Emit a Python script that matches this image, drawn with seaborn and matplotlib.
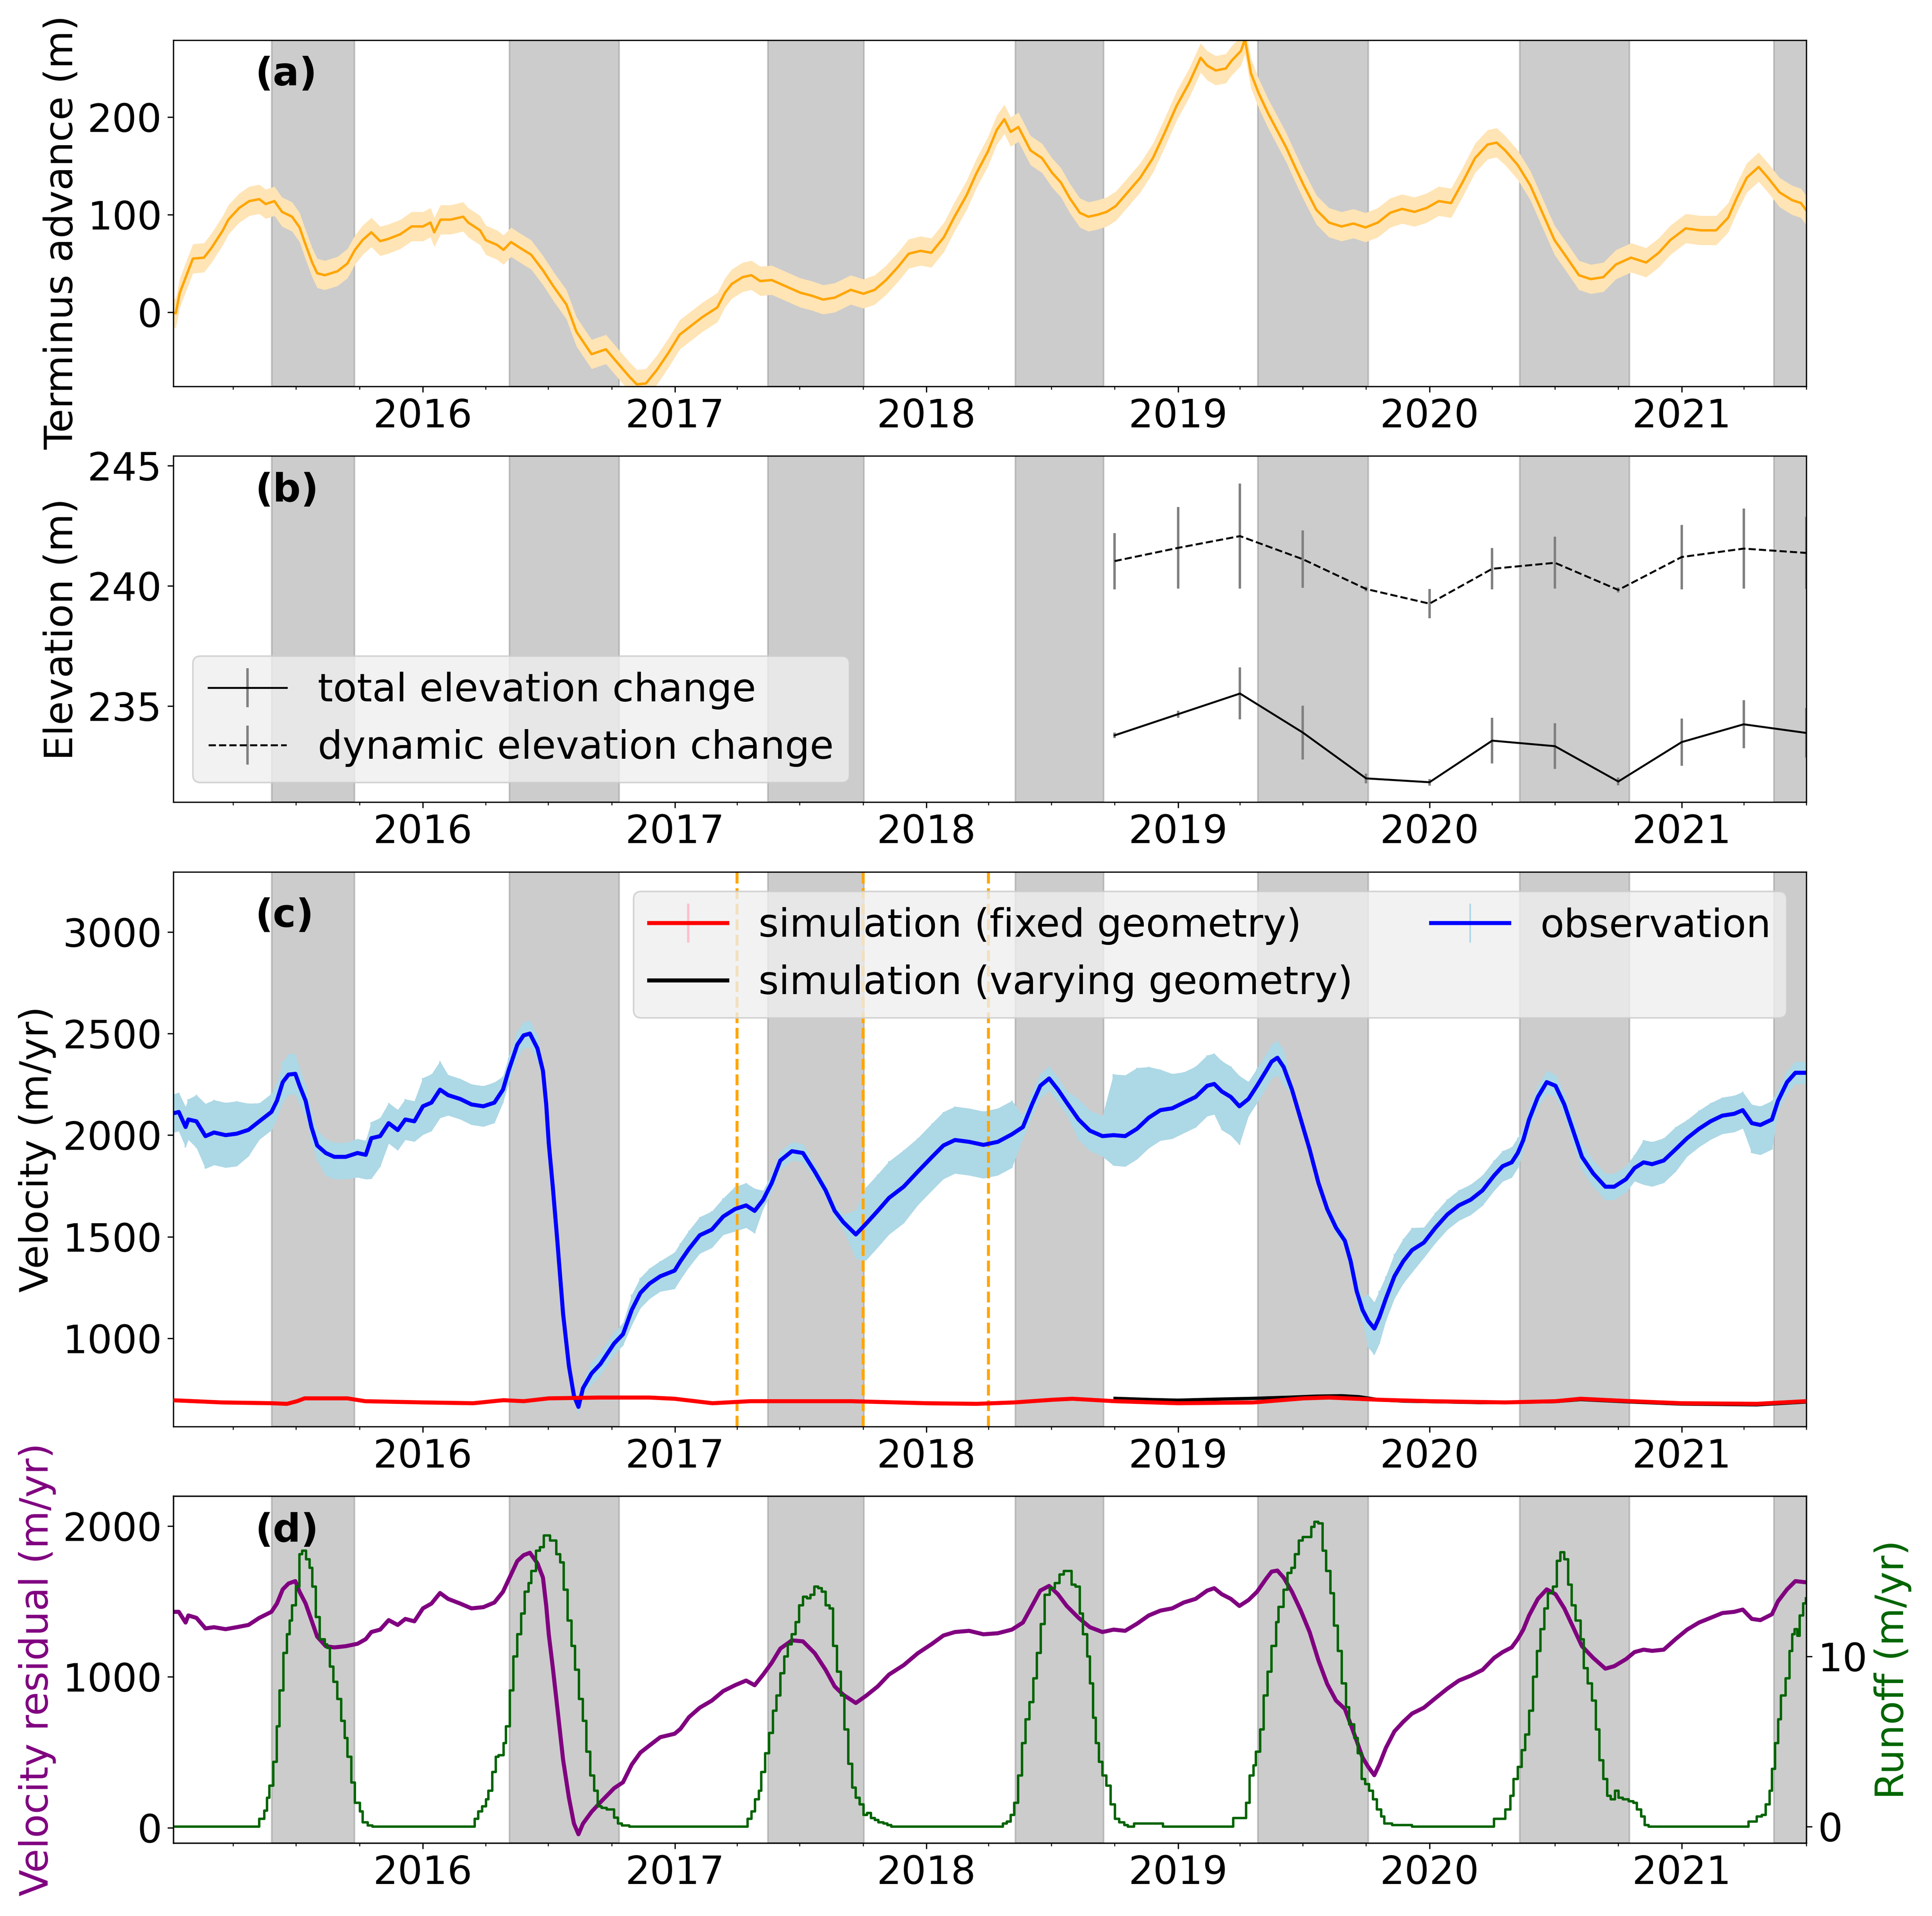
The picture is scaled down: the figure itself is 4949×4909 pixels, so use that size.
import numpy as np
import pandas as pd
import matplotlib
matplotlib.use("Agg")
import matplotlib.pyplot as plt
import matplotlib.dates as mdates
import seaborn as sns

plt.rcParams['font.size'] = 24

# -------------------- data (times in decimal years) --------------------
term_t = [2015.0, 2015.018, 2015.034, 2015.086, 2015.13, 2015.16, 2015.205, 2015.227, 2015.27, 2015.31,
          2015.35, 2015.375, 2015.41, 2015.44, 2015.48, 2015.51, 2015.53, 2015.56, 2015.58, 2015.61,
          2015.66, 2015.70, 2015.73, 2015.76, 2015.795, 2015.83, 2015.86, 2015.91, 2015.955, 2016.0,
          2016.03, 2016.045, 2016.07, 2016.11, 2016.16, 2016.18, 2016.227, 2016.25, 2016.295, 2016.32,
          2016.35, 2016.386, 2016.43, 2016.477, 2016.52, 2016.57, 2016.61, 2016.67, 2016.727, 2016.77,
          2016.82, 2016.85, 2016.886, 2016.93, 2016.977, 2017.02, 2017.07, 2017.11, 2017.17, 2017.20,
          2017.227, 2017.27, 2017.305, 2017.34, 2017.386, 2017.43, 2017.50, 2017.545, 2017.59, 2017.636,
          2017.70, 2017.75, 2017.795, 2017.84, 2017.886, 2017.93, 2017.977, 2018.02, 2018.07, 2018.11,
          2018.16, 2018.20, 2018.245, 2018.28, 2018.31, 2018.335, 2018.366, 2018.414, 2018.46, 2018.50,
          2018.535, 2018.57, 2018.61, 2018.644, 2018.68, 2018.717, 2018.753, 2018.80, 2018.85, 2018.90,
          2018.947, 2018.995, 2019.044, 2019.09, 2019.116, 2019.15, 2019.19, 2019.213, 2019.25, 2019.266,
          2019.29, 2019.32, 2019.358, 2019.395, 2019.43, 2019.467, 2019.50, 2019.55, 2019.60, 2019.65,
          2019.697, 2019.745, 2019.794, 2019.843, 2019.89, 2019.94, 2019.988, 2020.036, 2020.085, 2020.13,
          2020.18, 2020.23, 2020.266, 2020.30, 2020.35, 2020.40, 2020.448, 2020.496, 2020.545, 2020.593,
          2020.64, 2020.69, 2020.74, 2020.80, 2020.86, 2020.91, 2020.956, 2021.017, 2021.077, 2021.138,
          2021.186, 2021.22, 2021.26, 2021.307, 2021.344, 2021.39, 2021.44, 2021.475, 2021.495]
term_adv = [0, -1, 20, 55, 56, 66, 84, 95, 107, 114,
            116, 111, 114, 103, 98, 87, 72, 51, 40, 38,
            42, 50, 64, 74, 82, 73, 75, 80, 88, 88,
            92, 82, 95, 95, 98, 92, 84, 74, 69, 64,
            72, 66, 59, 43, 26, 8, -20, -43, -38, -51,
            -66, -74, -73, -59, -41, -23, -13, -5, 5, 20,
            29, 36, 38, 32, 33, 28, 20, 17, 13, 15,
            23, 19, 23, 33, 46, 60, 63, 61, 77, 97,
            120, 143, 165, 187, 198, 185, 190, 166, 158, 143,
            133, 117, 102, 98, 100, 103, 109, 123, 138, 158,
            184, 212, 235, 261, 253, 248, 250, 258, 268, 280,
            245, 225, 204, 186, 169, 148, 130, 105, 92, 88,
            91, 87, 92, 102, 106, 103, 107, 114, 112, 133,
            158, 172, 174, 166, 151, 130, 102, 74, 56, 38,
            34, 36, 49, 56, 51, 61, 74, 86, 84, 84,
            97, 117, 138, 149, 138, 123, 115, 112, 105]
term_err = 15

elev_dates = ['2018-10-01', '2019-01-01', '2019-04-01', '2019-07-01', '2019-10-01', '2020-01-01',
              '2020-04-01', '2020-07-01', '2020-10-01', '2021-01-01', '2021-04-01', '2021-07-01']
elev_total = [233.78, 234.66, 235.52, 233.90, 231.99, 231.83, 233.56, 233.33, 231.86, 233.50, 234.24, 233.88]
elev_total_err = [0.12, 0.15, 1.08, 1.12, 0.20, 0.14, 0.95, 0.95, 0.16, 0.98, 1.00, 1.03]
elev_dyn = [241.03, 241.58, 242.07, 241.11, 239.87, 239.26, 240.71, 240.96, 239.83, 241.20, 241.55, 241.37]
elev_dyn_err = [1.17, 1.70, 2.19, 1.19, 0.10, 0.61, 0.86, 1.08, 0.10, 1.34, 1.67, 1.50]

vel_t = [2015.0, 2015.03, 2015.057, 2015.068, 2015.10, 2015.136, 2015.17, 2015.216, 2015.26, 2015.307,
         2015.35, 2015.398, 2015.42, 2015.443, 2015.466, 2015.493, 2015.51, 2015.534, 2015.557, 2015.58,
         2015.614, 2015.648, 2015.693, 2015.74, 2015.773, 2015.795, 2015.83, 2015.864, 2015.90, 2015.93,
         2015.966, 2016.0, 2016.034, 2016.068, 2016.10, 2016.148, 2016.193, 2016.24, 2016.284, 2016.318,
         2016.34, 2016.375, 2016.40, 2016.425, 2016.455, 2016.477, 2016.49, 2016.50, 2016.516, 2016.534,
         2016.557, 2016.58, 2016.60, 2016.618, 2016.636, 2016.67, 2016.705, 2016.76, 2016.795, 2016.83,
         2016.864, 2016.90, 2016.943, 2017.0, 2017.023, 2017.057, 2017.10, 2017.148, 2017.193, 2017.24,
         2017.284, 2017.318, 2017.352, 2017.386, 2017.42, 2017.466, 2017.51, 2017.557, 2017.60, 2017.636,
         2017.67, 2017.72, 2017.76, 2017.807, 2017.852, 2017.91, 2017.966, 2018.023, 2018.068, 2018.114,
         2018.17, 2018.227, 2018.284, 2018.34, 2018.384, 2018.42, 2018.453, 2018.488, 2018.523, 2018.558,
         2018.605, 2018.65, 2018.70, 2018.744, 2018.79, 2018.837, 2018.884, 2018.93, 2018.977, 2019.023,
         2019.07, 2019.116, 2019.144, 2019.174, 2019.21, 2019.244, 2019.28, 2019.314, 2019.35, 2019.372,
         2019.395, 2019.42, 2019.453, 2019.488, 2019.523, 2019.558, 2019.593, 2019.628, 2019.663, 2019.686,
         2019.71, 2019.733, 2019.756, 2019.78, 2019.80, 2019.826, 2019.86, 2019.895, 2019.93, 2019.977,
         2020.023, 2020.07, 2020.116, 2020.163, 2020.21, 2020.256, 2020.29, 2020.326, 2020.35, 2020.372,
         2020.395, 2020.43, 2020.465, 2020.50, 2020.535, 2020.57, 2020.605, 2020.65, 2020.698, 2020.733,
         2020.78, 2020.814, 2020.85, 2020.884, 2020.93, 2020.977, 2021.023, 2021.07, 2021.116, 2021.163,
         2021.21, 2021.244, 2021.28, 2021.314, 2021.36, 2021.384, 2021.42, 2021.453, 2021.495]
vel_obs = [2105, 2114, 2040, 2077, 2068, 1995, 2013, 2000, 2007, 2026,
           2068, 2114, 2169, 2261, 2298, 2302, 2243, 2169, 2040, 1949,
           1912, 1893, 1893, 1912, 1903, 1985, 1995, 2059, 2025, 2077,
           2068, 2142, 2160, 2224, 2197, 2178, 2151, 2142, 2160, 2224,
           2316, 2445, 2491, 2500, 2427, 2316, 2150, 1960, 1746, 1480,
           1120, 864, 717, 662, 754, 827, 873, 975, 1020, 1140,
           1223, 1269, 1305, 1333, 1379, 1440, 1507, 1535, 1599, 1636,
           1654, 1627, 1682, 1765, 1875, 1921, 1912, 1820, 1728, 1627,
           1572, 1511, 1563, 1627, 1691, 1746, 1820, 1893, 1949, 1976,
           1967, 1952, 1967, 2004, 2040, 2151, 2243, 2279, 2224, 2160,
           2077, 2022, 1995, 2000, 1995, 2031, 2086, 2123, 2132, 2160,
           2188, 2243, 2252, 2215, 2188, 2142, 2178, 2243, 2316, 2362,
           2381, 2335, 2224, 2077, 1930, 1765, 1636, 1544, 1480, 1379,
           1232, 1140, 1085, 1048, 1103, 1195, 1305, 1379, 1434, 1471,
           1544, 1609, 1654, 1682, 1728, 1801, 1847, 1866, 1912, 1976,
           2077, 2188, 2261, 2243, 2151, 2022, 1893, 1811, 1746, 1746,
           1783, 1838, 1866, 1857, 1875, 1930, 1985, 2031, 2068, 2096,
           2105, 2123, 2059, 2050, 2077, 2169, 2261, 2307, 2307]
vel_err_hi = [95, 95, 100, 100, 130, 160, 160, 160, 160, 130,
              90, 90, 90, 100, 100, 100, 90, 75, 75, 75,
              70, 70, 70, 70, 70, 80, 90, 100, 100, 100,
              100, 140, 140, 140, 100, 100, 100, 100, 100, 65,
              65, 65, 65, 65, 65, 40, 40, 40, 30, 30,
              30, 30, 30, 30, 30, 55, 55, 55, 55, 75,
              75, 75, 75, 90, 90, 90, 90, 90, 90, 110,
              110, 110, 45, 45, 45, 45, 45, 35, 35, 35,
              35, 120, 180, 180, 180, 180, 165, 165, 165, 165,
              165, 165, 165, 165, 60, 60, 60, 60, 60, 60,
              100, 100, 100, 300, 300, 300, 250, 200, 170, 150,
              150, 150, 150, 150, 150, 150, 85, 85, 85, 85,
              85, 85, 30, 30, 30, 30, 30, 30, 30, 60,
              60, 60, 130, 130, 130, 110, 110, 110, 110, 75,
              75, 75, 75, 75, 75, 75, 75, 75, 75, 55,
              55, 55, 55, 55, 55, 65, 65, 65, 65, 65,
              65, 65, 110, 110, 110, 110, 90, 90, 90, 90,
              90, 90, 92, 92, 92, 55, 55, 55, 55]
vel_err_lo = [95, 95, 100, 100, 130, 160, 160, 160, 160, 130,
              90, 90, 90, 100, 100, 100, 90, 75, 75, 75,
              110, 110, 110, 120, 120, 200, 150, 100, 100, 100,
              100, 140, 140, 140, 100, 100, 100, 100, 100, 65,
              65, 65, 65, 65, 65, 40, 40, 40, 30, 30,
              30, 30, 30, 30, 30, 55, 55, 55, 55, 75,
              75, 75, 75, 90, 90, 90, 90, 90, 90, 110,
              110, 110, 45, 45, 45, 45, 45, 35, 35, 35,
              35, 120, 180, 180, 180, 180, 165, 165, 165, 165,
              165, 165, 165, 165, 60, 60, 60, 60, 60, 60,
              100, 100, 100, 150, 150, 150, 150, 150, 150, 150,
              150, 150, 150, 190, 190, 190, 85, 85, 85, 85,
              85, 85, 30, 30, 30, 30, 30, 30, 30, 60,
              60, 60, 130, 130, 130, 110, 110, 110, 110, 75,
              75, 75, 75, 75, 75, 75, 75, 75, 75, 55,
              55, 55, 55, 55, 55, 65, 65, 65, 65, 65,
              65, 65, 110, 110, 110, 110, 90, 90, 90, 90,
              90, 90, 147, 147, 147, 55, 55, 55, 55]
vel_resid = [1432, 1432, 1361, 1408, 1392, 1322, 1330, 1317, 1330, 1345,
             1392, 1432, 1487, 1581, 1620, 1636, 1565, 1487, 1377, 1267,
             1204, 1196, 1204, 1220, 1251, 1298, 1314, 1377, 1345, 1385,
             1369, 1455, 1487, 1557, 1518, 1487, 1455, 1463, 1494, 1565,
             1644, 1769, 1808, 1824, 1754, 1659, 1471, 1283, 1063, 796,
             450, 199, 27, -44, 27, 105, 168, 262, 301, 419,
             498, 545, 600, 623, 655, 733, 796, 843, 906, 945,
             976, 945, 1016, 1094, 1188, 1243, 1236, 1157, 1047, 937,
             882, 827, 874, 937, 1016, 1078, 1157, 1220, 1275, 1298,
             1306, 1283, 1290, 1314, 1361, 1471, 1573, 1604, 1549, 1471,
             1392, 1330, 1298, 1314, 1306, 1353, 1408, 1440, 1455, 1494,
             1518, 1573, 1589, 1549, 1518, 1471, 1510, 1565, 1651, 1699,
             1706, 1659, 1565, 1440, 1298, 1110, 953, 843, 788, 686,
             576, 466, 403, 348, 419, 529, 639, 702, 757, 796,
             859, 922, 976, 1008, 1047, 1126, 1165, 1196, 1251, 1314,
             1408, 1518, 1581, 1549, 1455, 1330, 1204, 1126, 1055, 1071,
             1118, 1165, 1181, 1173, 1181, 1251, 1314, 1361, 1392, 1424,
             1432, 1447, 1385, 1377, 1416, 1502, 1581, 1636, 1628]

sim_fixed_t = [2015.0, 2015.2, 2015.4, 2015.46, 2015.5, 2015.53, 2015.7, 2015.77, 2016.0, 2016.2,
               2016.32, 2016.4, 2016.5, 2016.7, 2016.9, 2017.0, 2017.15, 2017.3, 2017.7, 2018.0,
               2018.2, 2018.35, 2018.5, 2018.58, 2018.75, 2019.0, 2019.3, 2019.5, 2019.6, 2019.8,
               2020.0, 2020.3, 2020.5, 2020.6, 2020.8, 2021.0, 2021.3, 2021.495]
sim_fixed = [695, 684, 680, 677, 690, 704, 704, 690, 684, 680,
             695, 690, 704, 708, 708, 702, 680, 690, 690, 680,
             677, 684, 697, 702, 690, 680, 684, 704, 708, 697,
             690, 684, 690, 702, 690, 680, 677, 690]
sim_fixed_err = 4
sim_vary_t = [2018.75, 2018.9, 2019.0, 2019.15, 2019.3, 2019.45, 2019.55, 2019.65, 2019.72, 2019.8,
              2019.9, 2020.0, 2020.2, 2020.5, 2020.6, 2020.8, 2021.0, 2021.3, 2021.495]
sim_vary = [704, 698, 695, 700, 704, 710, 715, 717, 712, 697,
            690, 688, 683, 688, 698, 686, 676, 672, 686]

runoff_t = [2015.0, 2015.35, 2015.37, 2015.38, 2015.39, 2015.405, 2015.42, 2015.43, 2015.445, 2015.46,
            2015.47, 2015.48, 2015.495, 2015.51, 2015.52, 2015.535, 2015.55, 2015.56, 2015.575, 2015.59,
            2015.61, 2015.62, 2015.63, 2015.645, 2015.66, 2015.675, 2015.69, 2015.70, 2015.715, 2015.73,
            2015.75, 2015.76, 2015.78, 2015.80,
            2016.205, 2016.22, 2016.235, 2016.25, 2016.26, 2016.275, 2016.29, 2016.30, 2016.32, 2016.33,
            2016.345, 2016.36, 2016.375, 2016.39, 2016.405, 2016.42, 2016.43, 2016.45, 2016.465, 2016.48,
            2016.49, 2016.505, 2016.52, 2016.53, 2016.545, 2016.56, 2016.575, 2016.59, 2016.605, 2016.62,
            2016.635, 2016.65, 2016.665, 2016.68, 2016.695, 2016.71, 2016.73, 2016.745, 2016.76, 2016.775,
            2016.79, 2016.82,
            2017.29, 2017.305, 2017.32, 2017.335, 2017.345, 2017.36, 2017.375, 2017.39, 2017.405, 2017.42,
            2017.435, 2017.45, 2017.465, 2017.48, 2017.495, 2017.51, 2017.525, 2017.54, 2017.555, 2017.57,
            2017.585, 2017.60, 2017.615, 2017.63, 2017.645, 2017.66, 2017.675, 2017.69, 2017.705, 2017.72,
            2017.735, 2017.75, 2017.765, 2017.78, 2017.795, 2017.81, 2017.83, 2017.845, 2017.86,
            2018.305, 2018.32, 2018.335, 2018.35, 2018.365, 2018.38, 2018.395, 2018.41, 2018.425, 2018.44,
            2018.455, 2018.47, 2018.49, 2018.51, 2018.53, 2018.546, 2018.563, 2018.577, 2018.593, 2018.61,
            2018.623, 2018.64, 2018.65, 2018.663, 2018.674, 2018.686, 2018.70, 2018.716, 2018.733, 2018.75,
            2018.767, 2018.786, 2018.80, 2018.825, 2018.94,
            2019.22, 2019.27, 2019.284, 2019.30, 2019.31, 2019.326, 2019.34, 2019.356, 2019.372, 2019.39,
            2019.40, 2019.42, 2019.435, 2019.45, 2019.465, 2019.48, 2019.495, 2019.53, 2019.542, 2019.558,
            2019.574, 2019.588, 2019.605, 2019.62, 2019.635, 2019.65, 2019.667, 2019.68, 2019.70, 2019.714,
            2019.73, 2019.744, 2019.76, 2019.775, 2019.79, 2019.807, 2019.82, 2019.85, 2019.93,
            2020.256, 2020.30, 2020.32, 2020.333, 2020.35, 2020.365, 2020.38, 2020.395, 2020.41, 2020.426,
            2020.44, 2020.456, 2020.47, 2020.49, 2020.505, 2020.52, 2020.535, 2020.55, 2020.565, 2020.58,
            2020.60, 2020.612, 2020.628, 2020.645, 2020.66, 2020.674, 2020.69, 2020.705, 2020.72, 2020.737,
            2020.75, 2020.767, 2020.79, 2020.81, 2020.823, 2020.84, 2020.855, 2020.87,
            2021.267, 2021.30, 2021.32, 2021.335, 2021.35, 2021.36, 2021.372, 2021.384, 2021.395, 2021.414,
            2021.43, 2021.44, 2021.45, 2021.46, 2021.47, 2021.484, 2021.495]
runoff = [0, 0.46, 0.94, 1.7, 2.4, 3.8, 5.9, 8.0, 10.2, 11.3,
          12.1, 13.0, 14.1, 16.0, 16.2, 15.7, 15.2, 14.1, 12.3, 11.0,
          10.7, 10.5, 9.4, 8.5, 7.5, 6.2, 5.2, 4.1, 2.6, 1.4,
          0.9, 0.25, 0.08, 0,
          0.46, 0.9, 1.2, 1.6, 2.1, 3.2, 4.1, 4.2, 4.9, 5.9,
          8.0, 10.0, 11.3, 12.5, 13.8, 14.3, 15.0, 16.2, 16.4, 17.1,
          17.1, 16.8, 16.8, 16.0, 15.5, 13.9, 12.1, 10.6, 9.2, 7.5,
          6.2, 4.4, 3.0, 2.1, 1.2, 1.1, 1.0, 1.0, 0.53, 0.18,
          0.08, 0,
          0.46, 0.9, 1.6, 2.1, 3.2, 4.3, 5.5, 6.8, 7.7, 9.0,
          10.0, 10.7, 11.3, 12.0, 13.0, 13.5, 13.4, 13.6, 14.1, 14.0,
          13.8, 13.0, 12.8, 10.6, 9.1, 7.7, 5.7, 3.7, 2.3, 1.7,
          1.3, 0.7, 0.8, 0.5, 0.4, 0.25, 0.18, 0.1, 0,
          0.18, 0.3, 0.7, 1.4, 3.0, 4.9, 6.3, 7.3, 8.7, 10.2,
          11.9, 13.6, 14.0, 14.3, 14.8, 15.0, 15.0, 14.2, 14.1, 12.5,
          11.3, 10.0, 8.4, 6.4, 4.9, 3.8, 3.0, 2.4, 1.3, 0.46,
          0.25, 0.1, 0, 0.18, 0,
          0.5, 1.4, 3.0, 3.6, 4.4, 5.7, 7.7, 9.1, 10.6, 12.0,
          12.9, 13.9, 14.9, 15.2, 16.0, 16.8, 17.0, 17.6, 17.9, 17.8,
          16.2, 15.0, 13.7, 11.8, 10.3, 8.4, 7.0, 6.0, 5.2, 4.3,
          2.8, 2.5, 2.1, 1.6, 1.0, 0.6, 0.18, 0.1, 0,
          0.46, 1.0, 1.8, 2.8, 3.5, 4.5, 5.4, 6.8, 8.8, 10.3,
          11.6, 12.8, 13.7, 14.1, 15.6, 16.1, 15.7, 14.2, 13.0, 12.1,
          11.0, 9.3, 8.4, 7.4, 5.7, 3.9, 2.8, 1.8, 1.6, 2.1,
          1.7, 1.6, 1.5, 1.4, 1.0, 0.6, 0.1, 0,
          0.3, 0.6, 0.7, 1.3, 2.1, 3.4, 4.9, 6.3, 7.7, 8.7,
          10.3, 11.3, 11.6, 11.2, 12.4, 13.1, 13.4]

melt_start = ['2015-05-27', '2016-05-06', '2017-05-16', '2018-05-10', '2019-04-27', '2020-05-11', '2021-05-15']
melt_end = ['2015-09-24', '2016-10-12', '2017-10-02', '2018-09-15', '2019-10-04', '2020-10-17', '2021-10-01']
event_dates = ['2017-04-01', '2017-10-01', '2018-04-01']


def yr2dt(y):
    y = np.asarray(y, dtype=float)
    return pd.Timestamp('2015-01-01') + pd.to_timedelta((y - 2015.0) * 365.25, unit='D')


def style_time_axis(ax):
    for s, e in zip(melt_start, melt_end):
        ax.axvspan(pd.Timestamp(s), pd.Timestamp(e), color='gray', alpha=0.4, zorder=0)
    ax.set_xlim(pd.Timestamp('2015-01-04'), pd.Timestamp('2021-07-01'))
    ax.xaxis.set_major_locator(mdates.YearLocator())
    ax.xaxis.set_minor_locator(mdates.MonthLocator(bymonth=[1, 4, 7, 10]))
    ax.xaxis.set_major_formatter(mdates.DateFormatter('%Y'))
    ax.set_xlabel('')


fig = plt.figure(figsize=(4949 / 300, 4909 / 300), dpi=300)
gs = fig.add_gridspec(4, 1, height_ratios=[887, 887, 1421, 889], hspace=0.175,
                      left=0.0897, right=0.935, top=0.979, bottom=0.0381)
ax1, ax2, ax3, ax4 = [fig.add_subplot(gs[i]) for i in range(4)]

# -------------------- (a) terminus advance --------------------
tt = yr2dt(term_t)
ta = np.array(term_adv, dtype=float)
ax1.fill_between(tt, ta - term_err, ta + term_err, color='moccasin', lw=0, zorder=1)
sns.lineplot(x=tt, y=ta, ax=ax1, color='orange', lw=1.5, estimator=None, zorder=2)
style_time_axis(ax1)
ax1.set_ylim(-76, 279)
ax1.set_yticks([0, 100, 200])
ax1.set_ylabel('Terminus advance (m)', y=0.445)
ax1.text(0.05, 0.90, '(a)', transform=ax1.transAxes, fontweight='bold', va='center')

# -------------------- (b) elevation --------------------
ed = pd.to_datetime(elev_dates)
ax2.errorbar(ed, elev_total, yerr=elev_total_err, color='black', ecolor='gray', lw=1.2,
             elinewidth=1.5, label='total elevation change')
ax2.errorbar(ed, elev_dyn, yerr=elev_dyn_err, color='black', ecolor='gray', lw=1.2, ls='--',
             elinewidth=1.5, label='dynamic elevation change')
style_time_axis(ax2)
ax2.set_ylim(231.0, 245.4)
ax2.set_yticks([235, 240, 245])
ax2.set_ylabel('Elevation (m)')
ax2.legend(loc='lower left', facecolor='#efefef', framealpha=0.8)
ax2.text(0.05, 0.90, '(b)', transform=ax2.transAxes, fontweight='bold', va='center')

# -------------------- (c) velocity --------------------
vt = yr2dt(vel_t)
vo = np.array(vel_obs, dtype=float)
lo = np.array(vel_err_lo, dtype=float)
hi = np.array(vel_err_hi, dtype=float)
ax3.fill_between(vt, vo - lo, vo + hi, color='lightblue', lw=0, zorder=1)
for d in event_dates:
    ax3.axvline(pd.Timestamp(d), color='orange', ls='--', lw=1.8, zorder=1.5)
eb_obs = ax3.errorbar(vt, vo, yerr=[lo, hi], color='blue', ecolor='lightblue', lw=2.5,
                      elinewidth=1.0, zorder=2, label='observation')
sns.lineplot(x=yr2dt(sim_vary_t), y=sim_vary, ax=ax3, color='black', lw=2.0, estimator=None, zorder=3)
eb_fix = ax3.errorbar(yr2dt(sim_fixed_t), sim_fixed, yerr=sim_fixed_err, color='red', ecolor='pink',
                      lw=2.5, elinewidth=1.5, zorder=4, label='simulation (fixed geometry)')
style_time_axis(ax3)
ax3.set_ylim(566, 3296)
ax3.set_yticks([1000, 1500, 2000, 2500, 3000])
ax3.set_ylabel('Velocity (m/yr)')
black_handle = plt.Line2D([], [], color='black', lw=2.5)
ax3.legend([eb_fix, black_handle, eb_obs],
           ['simulation (fixed geometry)', 'simulation (varying geometry)', 'observation'],
           loc='upper right', ncol=2, facecolor='#efefef', framealpha=0.8)
ax3.text(0.05, 0.92, '(c)', transform=ax3.transAxes, fontweight='bold', va='center')

# -------------------- (d) velocity residual and runoff --------------------
sns.lineplot(x=vt, y=vel_resid, ax=ax4, color='purple', lw=2.5, estimator=None)
style_time_axis(ax4)
ax4.set_ylim(-102, 2200)
ax4.set_yticks([0, 1000, 2000])
ax4.set_ylabel('Velocity residual (m/yr)', color='purple')
ax4.text(0.05, 0.90, '(d)', transform=ax4.transAxes, fontweight='bold', va='center')

ax4r = ax4.twinx()
sns.lineplot(x=yr2dt(runoff_t), y=runoff, ax=ax4r, color='darkgreen', lw=1.5,
             drawstyle='steps-post', estimator=None)
ax4r.set_ylim(-0.96, 19.4)
ax4r.set_yticks([0, 10])
ax4r.set_ylabel('Runoff (m/yr)', color='darkgreen')
ax4r.set_xlim(pd.Timestamp('2015-01-04'), pd.Timestamp('2021-07-01'))
ax4r.set_xlabel('')

fig.savefig('out.png', dpi=300)
